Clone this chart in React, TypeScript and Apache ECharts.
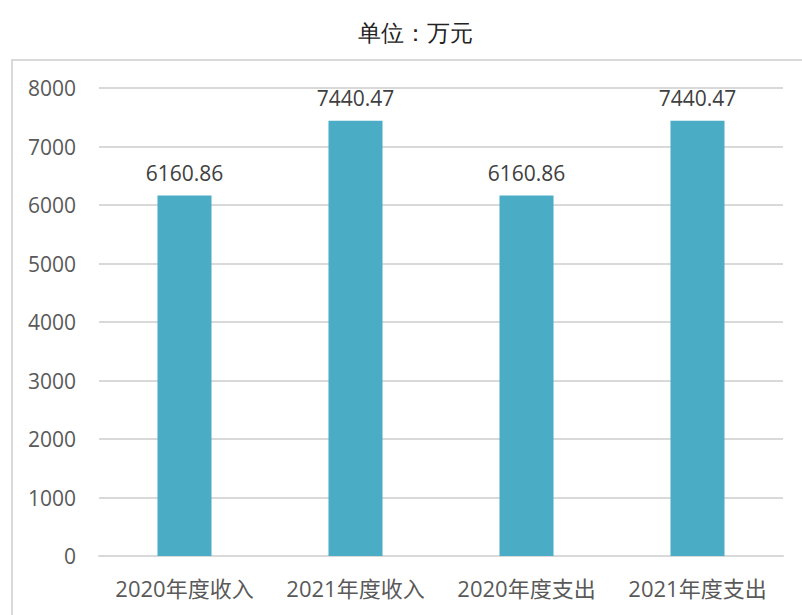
import React, { useEffect, useRef } from "react";
import * as echarts from "echarts";

const categories = ["2020年度收入", "2021年度收入", "2020年度支出", "2021年度支出"];
const values = [6160.86, 7440.47, 6160.86, 7440.47];
const titleText = "单位：万元";

export default function App() {
  const ref = useRef<HTMLDivElement>(null);
  useEffect(() => {
    if (!ref.current) return;
    const chart = echarts.init(ref.current, undefined, { renderer: "svg" });
    const font = "'Open Sans', 'Noto Sans CJK SC', sans-serif";
    chart.setOption({
      animation: false,
      backgroundColor: "#ffffff",
      title: {
        text: titleText,
        left: 353,
        top: 17,
        textStyle: {
          fontFamily: "serif",
          fontSize: 23,
          fontWeight: "normal",
          color: "#222222",
        },
      },
      graphic: [
        {
          type: "rect",
          shape: { x: 12, y: 60, width: 800, height: 600 },
          style: { fill: "none", stroke: "#d9d9d9", lineWidth: 2 },
          silent: true,
        },
      ],
      grid: { left: 99, right: 19, top: 88, bottom: 59 },
      xAxis: {
        type: "category",
        data: categories,
        axisTick: { show: false },
        axisLine: { lineStyle: { color: "#d9d9d9", width: 2 } },
        axisLabel: {
          interval: 0,
          hideOverlap: false,
          color: "#595959",
          fontSize: 22,
          fontFamily: font,
          margin: 21,
        },
      },
      yAxis: {
        type: "value",
        min: 0,
        max: 8000,
        interval: 1000,
        axisLine: { show: false },
        axisTick: { show: false },
        splitLine: { lineStyle: { color: "#d9d9d9", width: 2 } },
        axisLabel: {
          color: "#595959",
          fontSize: 21,
          fontFamily: font,
          margin: 23,
          formatter: (v: number) => String(v),
        },
      },
      series: [
        {
          type: "bar",
          data: values,
          barWidth: "31.6%",
          itemStyle: { color: "#4BACC6" },
          label: {
            show: true,
            position: "top",
            distance: 12,
            color: "#404040",
            fontSize: 21,
            fontFamily: font,
          },
        },
      ],
    });
    return () => chart.dispose();
  }, []);
  return (
    <div
      ref={ref}
      style={{ position: "fixed", left: 0, top: 0, width: 802, height: 615 }}
    />
  );
}
